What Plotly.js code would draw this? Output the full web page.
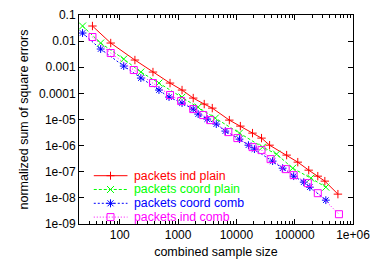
<!DOCTYPE html>
<html><head><meta charset="utf-8">
<script src="https://cdn.plot.ly/plotly-3.0.1.min.js"></script>
<style>html,body{margin:0;padding:0;background:#fff}#chart{width:374px;height:262px}</style>
</head><body><div id="chart"></div>
<script>
// Series names
var seriesNames = ["packets ind plain", "packets coord plain", "packets coord comb", "packets ind comb"];

// packets ind plain
var indPlainX = [34, 70, 182, 371, 728, 1170, 1820, 2810, 3860, 7570, 11700, 18900, 27000, 37100, 72800, 113000, 174000, 249000, 329000, 551000];
var indPlainY = [0.0379, 0.00845, 0.00189, 6.55e-4, 2.48e-4, 1.34e-4, 6.61e-5, 3.89e-5, 2.73e-5, 9.48e-6, 5.58e-6, 3.01e-6, 1.94e-6, 1.04e-6, 4.33e-7, 2.33e-7, 1.15e-7, 6.78e-8, 4.37e-8, 1.39e-8];

// packets coord plain
var coordPlainX = [23, 47, 117, 230, 470, 1170, 2210, 4350, 11300, 28100, 48900, 92400, 189000, 342000];
var coordPlainY = [0.0379, 0.00845, 0.00206, 6.55e-4, 2.48e-4, 7.22e-5, 2.99e-5, 1.13e-5, 3.01e-6, 8.77e-7, 4.72e-7, 1.37e-7, 5.69e-8, 2.57e-8];

// packets coord comb
var coordCombX = [23, 47, 117, 230, 470, 700, 1170, 1820, 2210, 3160, 4520, 6460, 11300, 16100, 20400, 41800, 62100, 96100, 143000, 182000, 342000];
var coordCombY = [0.0204, 0.00498, 0.00111, 3.85e-4, 1.34e-4, 7.22e-5, 4.25e-5, 2.50e-5, 1.61e-5, 1.04e-5, 6.67e-6, 3.60e-6, 1.77e-6, 1.04e-6, 7.35e-7, 2.55e-7, 1.37e-7, 6.78e-8, 4.00e-8, 2.57e-8, 8.17e-9];

// packets ind comb
var indCombX = [34, 70, 174, 371, 728, 1130, 1820, 2700, 3560, 7280, 10400, 18900, 27000, 38600, 70000, 96100, 168000, 249000, 574000];
var indCombY = [0.01435, 0.00350, 7.82e-4, 2.48e-4, 8.61e-5, 5.07e-5, 2.50e-5, 1.48e-5, 9.48e-6, 3.29e-6, 1.94e-6, 8.77e-7, 6.73e-7, 3.04e-7, 1.26e-7, 7.41e-8, 3.66e-8, 1.51e-8, 2.37e-9];

// Tick labels
var xTickVals = [100, 1000, 10000, 100000, 1000000];
var xTickText = ["100", "1000", "10000", "100000", "1e+06"];
var yTickVals = [1e-1, 1e-2, 1e-3, 1e-4, 1e-5, 1e-6, 1e-7, 1e-8, 1e-9];
var yTickText = ["0.1", "0.01", "0.001", "0.0001", "1e-05", "1e-06", "1e-07", "1e-08", "1e-09"];

// styles
var colors = ["#ff0000", "#00ff00", "#0000ff", "#ff00ff"];
var dashes = ["solid", "3px,2px", "2px,2px", "1px,2px"];
var symbols = ["cross-thin-open", "x-thin-open", "asterisk-open", "square-open"];
var sizes = [6, 7, 6.5, 7];

var xs = [indPlainX, coordPlainX, coordCombX, indCombX];
var ys = [indPlainY, coordPlainY, coordCombY, indCombY];

var font = "Liberation Sans, Arial, Helvetica, sans-serif";
var traces = [];
for (var i = 0; i < 4; i++) {
  traces.push({
    type: "scatter", mode: "lines+markers", name: seriesNames[i],
    x: xs[i], y: ys[i],
    line: {color: colors[i], width: 1, dash: dashes[i]},
    marker: {symbol: symbols[i], size: sizes[i], color: colors[i], line: {color: colors[i], width: 1}},
    showlegend: false, cliponaxis: false
  });
}

// minor tick positions
var minorX = [];
for (var d = 10; d < 1e6; d *= 10) for (var m = 2; m <= 9; m++) if (d * m >= 20) minorX.push(d * m);

// custom legend (layout shapes + annotations)
var shapes = [], annotations = [];
var legY = [0.2311, 0.1651, 0.0990, 0.0330];
var lx0 = 0.054, lx1 = 0.177, lmx = 0.115, ltx = 0.199;
for (var k = 0; k < 4; k++) {
  var c = colors[k], yy = legY[k];
  shapes.push({type: "line", xref: "paper", yref: "paper", x0: lx0, x1: lx1, y0: yy, y1: yy, line: {color: c, width: 1, dash: dashes[k]}});
  var base = {type: "line", xref: "paper", yref: "paper", xsizemode: "pixel", ysizemode: "pixel", xanchor: lmx, yanchor: yy, line: {color: c, width: 1}};
  var segs = [];
  if (k === 0) segs = [[-4, 0, 4, 0], [0, -4, 0, 4]];
  if (k === 1) segs = [[-3.5, -3.5, 3.5, 3.5], [-3.5, 3.5, 3.5, -3.5]];
  if (k === 2) segs = [[-4, 0, 4, 0], [0, -4, 0, 4], [-3, -3, 3, 3], [-3, 3, 3, -3]];
  for (var s = 0; s < segs.length; s++) {
    var o = Object.assign({}, base, {x0: segs[s][0], y0: segs[s][1], x1: segs[s][2], y1: segs[s][3]});
    shapes.push(o);
  }
  if (k === 3) shapes.push(Object.assign({}, base, {type: "rect", x0: -3.5, y0: -3.5, x1: 3.5, y1: 3.5, fillcolor: "rgba(0,0,0,0)"}));
  annotations.push({xref: "paper", yref: "paper", x: ltx, y: yy, xanchor: "left", yanchor: "middle", showarrow: false,
    text: seriesNames[k], font: {family: font, size: 12.3, color: c}, borderpad: 0, borderwidth: 0});
}

var axisCommon = {
  type: "log", showgrid: false, zeroline: false, showline: true, mirror: "ticks",
  linecolor: "#000", linewidth: 1, ticks: "inside", ticklen: 5, tickcolor: "#000", tickwidth: 1,
  tickfont: {family: font, size: 12, color: "#000"}, tickmode: "array"
};

var layout = {
  width: 374, height: 262,
  margin: {l: 79, r: 21, t: 15, b: 38, pad: 0},
  paper_bgcolor: "#fff", plot_bgcolor: "#fff",
  font: {family: font, size: 12, color: "#000"},
  showlegend: false,
  xaxis: Object.assign({}, axisCommon, {
    range: [Math.log10(20), 6], tickvals: xTickVals, ticktext: xTickText,
    minor: {tickmode: "array", tickvals: minorX, ticks: "inside", ticklen: 3, tickcolor: "#000", showgrid: false},
    title: {text: "combined sample size", font: {family: font, size: 12.5, color: "#000"}, standoff: 5}
  }),
  yaxis: Object.assign({}, axisCommon, {
    range: [-9, -1], tickvals: yTickVals, ticktext: yTickText,
    title: {text: "normalized sum of square errors", font: {family: font, size: 12.5, color: "#000"}, standoff: 7}
  }),
  shapes: shapes, annotations: annotations
};

Plotly.newPlot("chart", traces, layout, {staticPlot: true, displayModeBar: false});
</script></body></html>
